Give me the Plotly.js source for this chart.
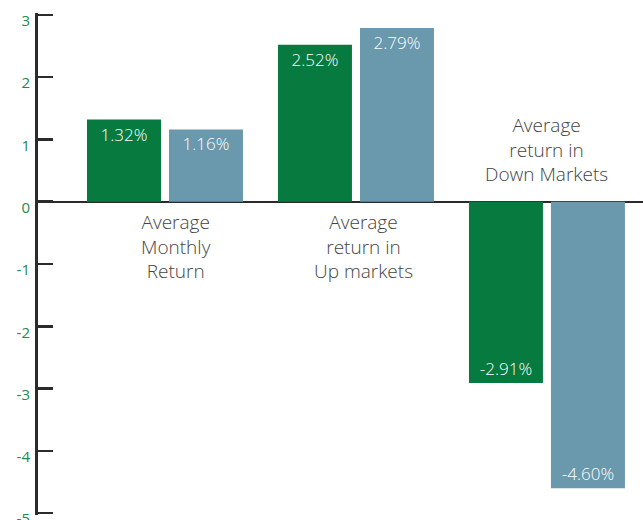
<!DOCTYPE html>
<html>
<head>
<meta charset="utf-8">
<script src="https://cdn.plot.ly/plotly-3.0.1.min.js"></script>
<style>html,body{margin:0;padding:0;background:#fff;}#chart{width:643px;height:520px;}</style>
</head>
<body>
<div id="chart"></div>
<script>
const categories = ["Average Monthly Return", "Average return in Up markets", "Average return in Down Markets"];
const categoryLabels = ["Average<br>Monthly<br>Return", "Average<br>return in<br>Up markets", "Average<br>return in<br>Down Markets"];
const seriesA = [1.32, 2.52, -2.91];
const seriesB = [1.16, 2.79, -4.60];
const yTicks = [3, 2, 1, 0, -1, -2, -3, -4, -5];

function fmt(v){ return v.toFixed(2) + "%"; }

const common = {
  type: "bar",
  x: categories,
  textposition: "inside",
  insidetextanchor: "end",
  textangle: 0,
  constraintext: "none",
  insidetextfont: {family: "Open Sans", size: 17, weight: 300, color: "#ffffff"},
  hoverinfo: "none"
};

const traces = [
  Object.assign({}, common, {name: "Series A", y: seriesA, text: seriesA.map(fmt), marker: {color: "#067A3F"}}),
  Object.assign({}, common, {name: "Series B", y: seriesB, text: seriesB.map(fmt), marker: {color: "#6A98AC"}})
];

const labelY = [-0.715, -0.715, 0.845];
const labelShift = [11, 8, 0];
const annotations = categories.map((c, i) => ({
  x: c, y: labelY[i], xref: "x", yref: "y",
  text: categoryLabels[i], showarrow: false,
  xshift: labelShift[i],
  xanchor: "center", yanchor: "middle", align: "center",
  font: {family: "Open Sans", size: 19, weight: 300, color: "#444444"}
}));

const layout = {
  width: 643, height: 520,
  margin: {l: 38, r: 0, t: 13, b: 5},
  paper_bgcolor: "#ffffff", plot_bgcolor: "#ffffff",
  showlegend: false,
  barmode: "group",
  bargap: 0.1414,
  bargroupgap: 0.0976,
  xaxis: {
    range: [-0.665, 2.503],
    showticklabels: false, ticks: "", showgrid: false, zeroline: false, showline: false
  },
  yaxis: {
    range: [-5.03, 3.03],
    tickvals: yTicks, ticktext: yTicks.map(String),
    ticks: "inside", ticklen: 15, tickwidth: 2.5, tickcolor: "#2b2b2b",
    showline: true, linewidth: 3, linecolor: "#2b2b2b",
    showgrid: false,
    zeroline: true, zerolinecolor: "#2b2b2b", zerolinewidth: 2,
    tickfont: {family: "Open Sans", size: 15, color: "#1E8A50"},
    ticklabelstandoff: 2,
    ticklabelshift: 6,
    ticklabeloverflow: "allow"
  },
  annotations: annotations
};

Plotly.newPlot("chart", traces, layout, {displayModeBar: false, staticPlot: true});
</script>
</body>
</html>
